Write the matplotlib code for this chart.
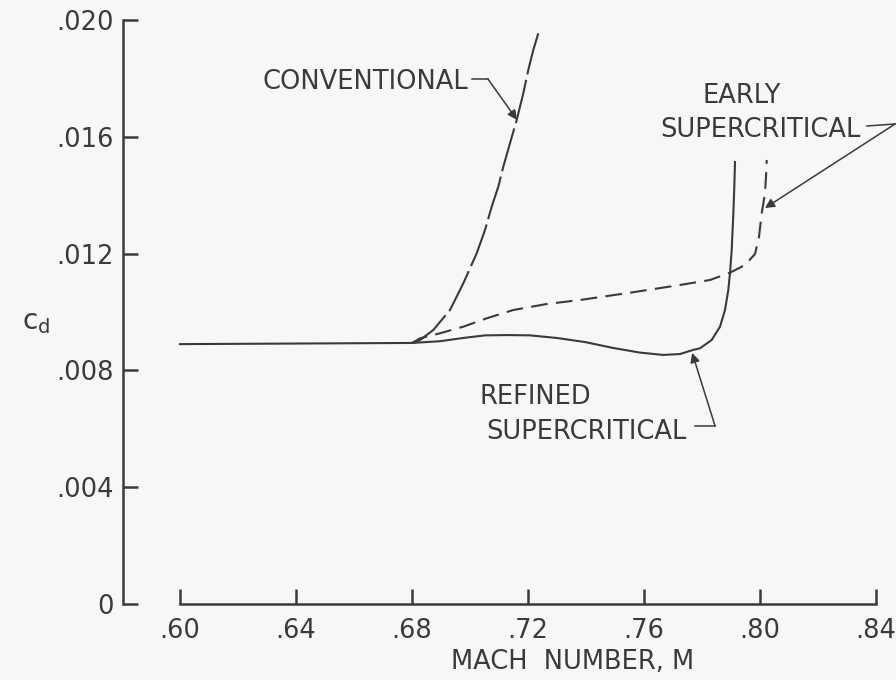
import numpy as np
import matplotlib
matplotlib.use('Agg')
from matplotlib import pyplot as plt

plt.rcParams['font.family'] = ['DejaVu Sans']
plt.rcParams['lines.scale_dashes'] = False

ink = '#3a3a3a'

# Data (Mach number, section drag coefficient)
base_mach = [0.600, 0.640, 0.680]
base_cd = [0.00890, 0.00892, 0.00894]

conv_mach = [0.680, 0.6810, 0.68276, 0.68734, 0.69310, 0.69769, 0.70231, 0.70517, 0.70748,
             0.70976, 0.71148, 0.71379, 0.71610, 0.71838, 0.72010, 0.72183, 0.72355]
conv_cd = [0.00894, 0.00896, 0.009041, 0.009384, 0.010068, 0.010983, 0.012010, 0.012808,
           0.013606, 0.014291, 0.014976, 0.015777, 0.016575, 0.017490, 0.018288, 0.018973,
           0.019545]

early_mach = [0.680, 0.68276, 0.68966, 0.69769, 0.70576, 0.71493, 0.72645, 0.73793, 0.75517,
              0.77241, 0.78276, 0.78966, 0.79483, 0.79828, 0.79966, 0.80059, 0.80172,
              0.80207, 0.80231]
early_cd = [0.008938, 0.009099, 0.009271, 0.009497, 0.009784, 0.010068, 0.010274, 0.010411,
            0.010661, 0.010925, 0.011096, 0.011346, 0.011610, 0.011986, 0.012579, 0.013380,
            0.014065, 0.014634, 0.015205]

refined_mach = [0.680, 0.6897, 0.6976, 0.7052, 0.7128, 0.7207, 0.7300, 0.7397, 0.7493,
                0.7586, 0.7666, 0.7724, 0.7769, 0.77931, 0.78334, 0.78621, 0.78793,
                0.78907, 0.78966, 0.79024, 0.79079, 0.79114, 0.79138]
refined_cd = [0.00894, 0.00900, 0.00911, 0.00920, 0.00921, 0.00920, 0.00911, 0.00897, 0.00877,
              0.00861, 0.00853, 0.00856, 0.00870, 0.008757, 0.009041, 0.009497, 0.010068,
              0.010753, 0.011336, 0.012123, 0.013322, 0.014281, 0.015137]

x_ticks = [0.60, 0.64, 0.68, 0.72, 0.76, 0.80, 0.84]
x_labels = ['.60', '.64', '.68', '.72', '.76', '.80', '.84']
y_ticks = [0.0, 0.004, 0.008, 0.012, 0.016, 0.020]
y_labels = ['0', '.004', '.008', '.012', '.016', '.020']

fig = plt.figure(figsize=(8.96, 6.8), dpi=100)
fig.patch.set_facecolor('#f7f7f7')
ax = fig.add_axes([123 / 896, 76 / 680, (880 - 123) / 896, 584 / 680])
ax.set_facecolor('#f7f7f7')

ax.set_xlim(0.60 - 57 / 2900, 0.84 + 4 / 2900)
ax.set_ylim(0.0, 0.020)

lw = 1.5
ax.plot(base_mach, base_cd, color=ink, lw=lw, clip_on=False)
ax.plot(refined_mach, refined_cd, color=ink, lw=lw, clip_on=False)
ax.plot(conv_mach, conv_cd, color=ink, lw=lw, dashes=(32, 4), clip_on=False)
ax.plot(early_mach, early_cd, color=ink, lw=lw, dashes=(12, 6), clip_on=False)

# axes frame: broken style
for s in ['top', 'right']:
    ax.spines[s].set_visible(False)
ax.spines['left'].set_bounds(0.0, 0.020)
ax.spines['bottom'].set_bounds(0.60, 0.84)
for s in ['left', 'bottom']:
    ax.spines[s].set_color(ink)
    ax.spines[s].set_linewidth(1.8)

ax.set_xticks(x_ticks)
ax.set_xticklabels(x_labels)
ax.set_yticks(y_ticks)
ax.set_yticklabels(y_labels)
ax.tick_params(axis='both', direction='in', length=11, width=1.8, color=ink,
               labelsize=18.5, labelcolor=ink)
ax.tick_params(axis='y', pad=7)
ax.tick_params(axis='x', pad=10)

ax.text(0.7352, -0.00199, 'MACH  NUMBER, M', fontsize=18.5, color=ink,
        ha='center', va='center')

fs = 18.5
ax.text(0.5503, 0.00966, r'$\mathregular{c_d}$', fontsize=20, color=ink,
        ha='center', va='center')

arrow = dict(arrowstyle='-|>', color=ink, lw=1.1, mutation_scale=14, shrinkA=0, shrinkB=0)

ax.text(0.6993, 0.01788, 'CONVENTIONAL', fontsize=fs, color=ink, ha='right', va='center')
ax.plot([0.7007, 0.7062], [0.01798, 0.01798], color=ink, lw=1.1, clip_on=False)
ax.annotate('', xy=(0.7162, 0.01658), xytext=(0.7062, 0.01798), arrowprops=arrow)

ax.text(0.7938, 0.0174, 'EARLY', fontsize=fs, color=ink, ha='center', va='center')
ax.text(0.8000, 0.01623, 'SUPERCRITICAL', fontsize=fs, color=ink, ha='center', va='center')
ax.plot([0.8369, 0.8466], [0.01637, 0.01644], color=ink, lw=1.1, clip_on=False)
ax.annotate('', xy=(0.8017, 0.01356), xytext=(0.8466, 0.01644), arrowprops=arrow)

ax.text(0.7224, 0.00709, 'REFINED', fontsize=fs, color=ink, ha='center', va='center')
ax.text(0.7400, 0.00589, 'SUPERCRITICAL', fontsize=fs, color=ink, ha='center', va='center')
ax.plot([0.7776, 0.7845], [0.0061, 0.0061], color=ink, lw=1.1, clip_on=False)
ax.annotate('', xy=(0.7766, 0.0086), xytext=(0.7845, 0.0061), arrowprops=arrow)

fig.savefig('out.png', dpi=100, facecolor=fig.get_facecolor())
